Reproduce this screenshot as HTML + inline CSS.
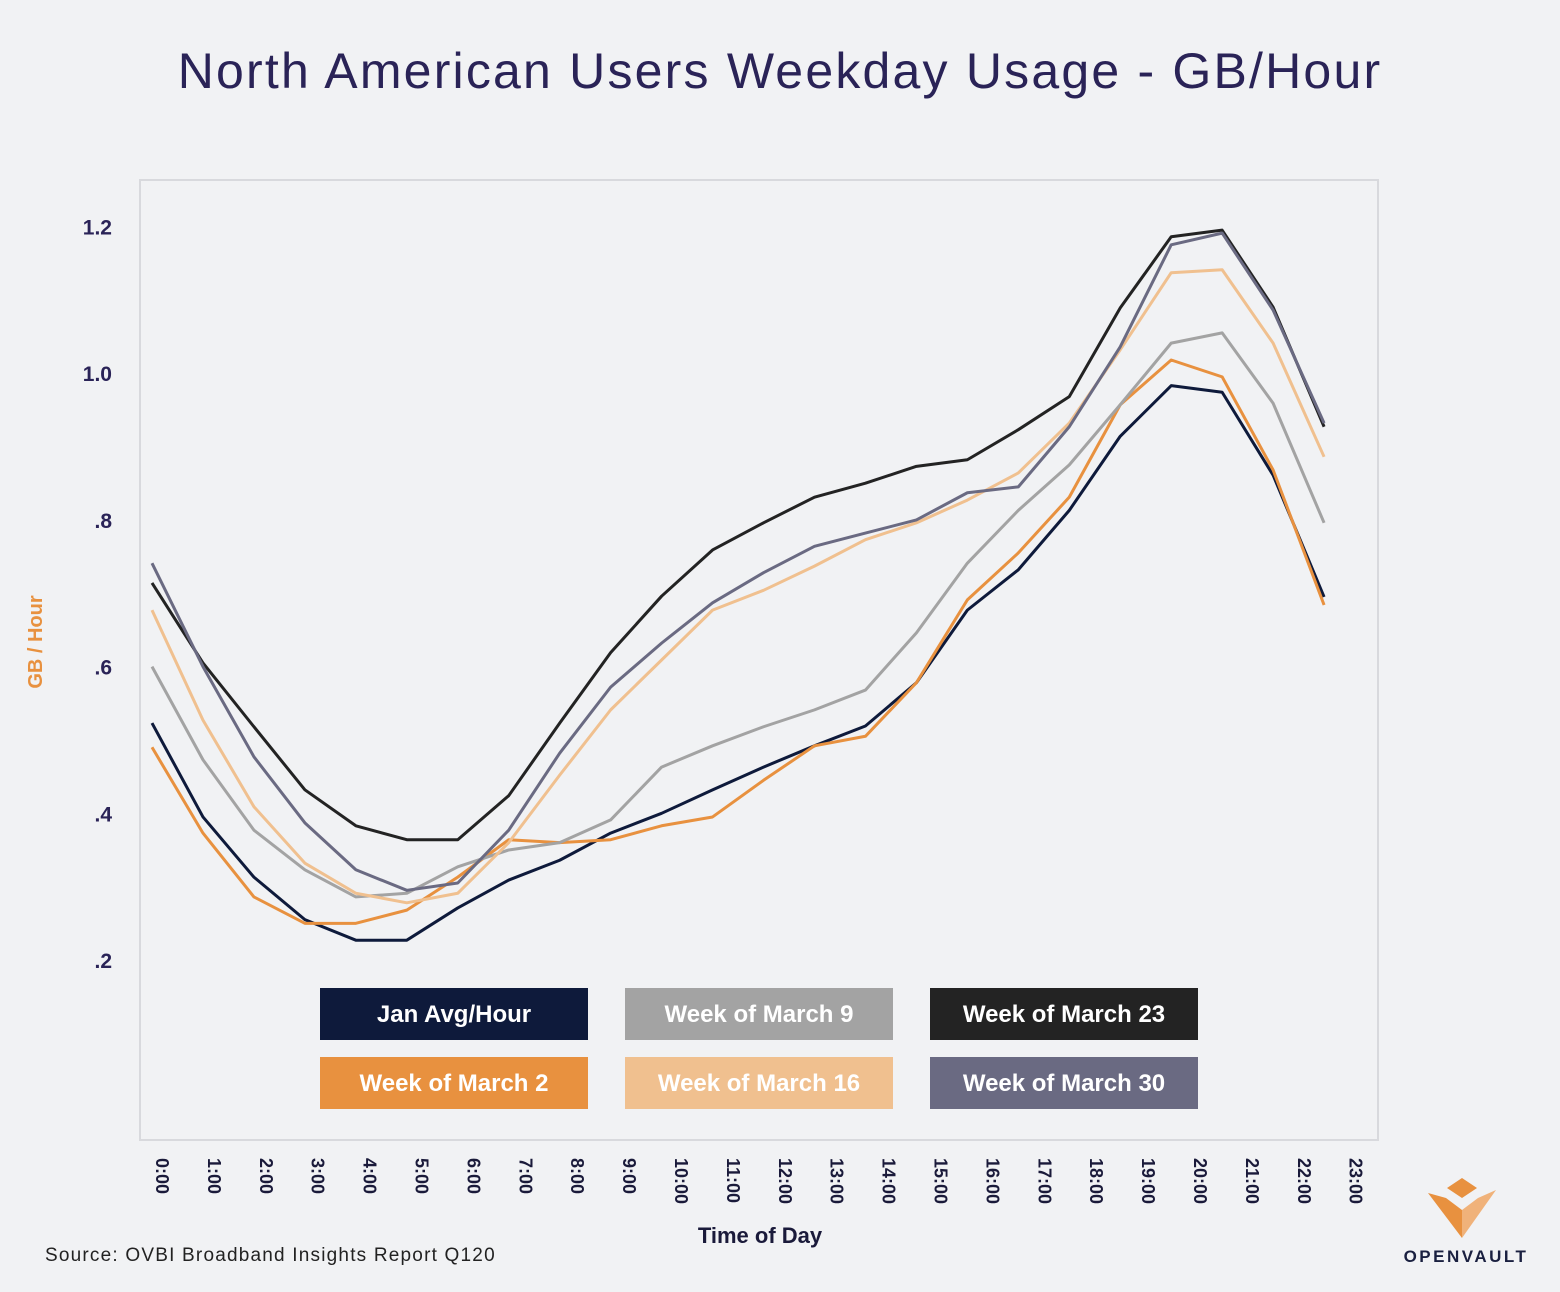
<!DOCTYPE html>
<html><head><meta charset="utf-8">
<style>
body{margin:0;background:#f1f2f4;}
svg{display:block;font-family:"Liberation Sans",sans-serif;}
</style></head>
<body>
<svg id="chart" width="1560" height="1292" viewBox="0 0 1560 1292">
<rect width="1560" height="1292" fill="#f1f2f4"/>
<text x="780" y="88" text-anchor="middle" font-size="50" letter-spacing="2.2" fill="#2a2357">North American Users Weekday Usage - GB/Hour</text>
<rect x="140" y="180" width="1238" height="960" fill="none" stroke="#d8d9dd" stroke-width="2"/>
<text transform="translate(42,642) rotate(-90)" text-anchor="middle" font-size="20" font-weight="bold" fill="#e8913f">GB / Hour</text>
<text x="760" y="1243" text-anchor="middle" font-size="22" font-weight="bold" fill="#1a1a3a">Time of Day</text>
<text x="45" y="1261" font-size="19" letter-spacing="1.2" fill="#222">Source: OVBI Broadband Insights Report Q120</text>
<g id="yticks"></g><g id="xticks"></g><g id="lines"></g><g id="legend"></g>
<g>
<polygon points="1447,1188 1462,1178 1477,1188 1462,1198" fill="#e8913f"/>
<polygon points="1428,1193 1462,1238 1462,1210 1446,1198" fill="#e8913f"/>
<polygon points="1496,1190 1462,1238 1462,1210 1478,1198" fill="#f0b27a"/>
<text x="1466" y="1262" text-anchor="middle" font-size="17" font-weight="bold" letter-spacing="2.5" fill="#1a2040">OPENVAULT</text>
</g>
</svg>
<script>
const hours = ["0:00","1:00","2:00","3:00","4:00","5:00","6:00","7:00","8:00","9:00","10:00","11:00","12:00","13:00","14:00","15:00","16:00","17:00","18:00","19:00","20:00","21:00","22:00","23:00"];
const yTicks = [0.2,0.4,0.6,0.8,1.0,1.2];
const yTickLabels = [".2",".4",".6",".8","1.0","1.2"];
const seriesNames = ["Jan Avg/Hour","Week of March 2","Week of March 9","Week of March 16","Week of March 23","Week of March 30"];
const janAvg = [0.523,0.395,0.313,0.255,0.227,0.227,0.271,0.309,0.336,0.373,0.400,0.432,0.463,0.492,0.519,0.578,0.677,0.732,0.813,0.914,0.983,0.974,0.861,0.695];
const march2 = [0.490,0.373,0.286,0.250,0.250,0.268,0.313,0.364,0.360,0.364,0.383,0.395,0.445,0.492,0.505,0.578,0.691,0.755,0.831,0.957,1.018,0.995,0.868,0.684];
const march9 = [0.600,0.473,0.377,0.323,0.286,0.291,0.327,0.350,0.360,0.391,0.463,0.492,0.518,0.541,0.568,0.646,0.741,0.813,0.875,0.957,1.041,1.055,0.959,0.796];
const march16 = [0.677,0.527,0.409,0.332,0.291,0.278,0.291,0.360,0.452,0.541,0.609,0.677,0.704,0.737,0.773,0.796,0.827,0.864,0.932,1.032,1.137,1.141,1.041,0.886];
const march23 = [0.714,0.605,0.518,0.432,0.383,0.364,0.364,0.424,0.523,0.619,0.696,0.759,0.796,0.831,0.850,0.873,0.882,0.923,0.968,1.089,1.186,1.195,1.090,0.927];
const march30 = [0.741,0.600,0.477,0.387,0.323,0.295,0.305,0.377,0.482,0.572,0.632,0.687,0.728,0.764,0.782,0.800,0.837,0.845,0.927,1.036,1.175,1.191,1.086,0.932];

const NS="http://www.w3.org/2000/svg";
const colors=["#0e1a3b","#e8913f","#a3a3a3","#f0c08f","#232323","#6a6a82"];
const allSeries=[janAvg,march2,march9,march16,march23,march30];
function y(v){return 960-(v-0.2)*733.5;}
function xPt(i){return 152+i*50.96;}
function xLab(i){return 163+i*51.9;}
function mk(tag,attrs,parent){const e=document.createElementNS(NS,tag);for(const k in attrs)e.setAttribute(k,attrs[k]);parent.appendChild(e);return e;}

const yg=document.getElementById('yticks');
yTicks.forEach((v,i)=>{
  const t=mk('text',{x:112,y:y(v)+8,'text-anchor':'end','font-size':21,'font-weight':'bold',fill:'#2a2357'},yg);
  
  
  t.textContent=yTickLabels[i];
});
const xg=document.getElementById('xticks');
hours.forEach((h,i)=>{
  const t=mk('text',{transform:`translate(${xLab(i)-7},1158) rotate(90)`,'font-size':18,'font-weight':'bold',fill:'#1a1a3a'},xg);
  
  
  t.textContent=h;
});
const lg=document.getElementById('lines');
allSeries.forEach((s,k)=>{
  const p=mk('polyline',{points:s.map((v,i)=>xPt(i)+','+y(v)).join(' '),fill:'none',stroke:colors[k],'stroke-width':3,'stroke-linejoin':'round'},lg);
  
  
});
const leg=document.getElementById('legend');
const order=[0,2,4,1,3,5];
order.forEach((k,j)=>{
  const col=j%3,row=Math.floor(j/3);
  const bx=320+col*305,by=988+row*69;
  const g=mk('g',{},leg);
  
  
  mk('rect',{x:bx,y:by,width:268,height:52,fill:colors[k]},g);
  const t=mk('text',{x:bx+134,y:by+34,'text-anchor':'middle','font-size':24,'font-weight':'bold',fill:'#fff'},g);
  t.textContent=seriesNames[k];
});
</script>
</body></html>
